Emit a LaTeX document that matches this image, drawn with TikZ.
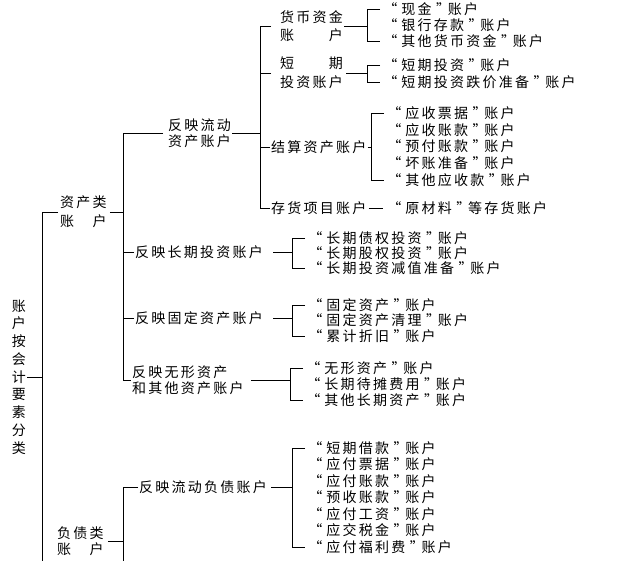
\documentclass[tikz,border=0pt]{standalone}
\usepackage{fontspec}
\setmainfont{Noto Sans CJK SC}[LetterSpace=16]
\usepackage{calc}
\usetikzlibrary{positioning}
\newcommand\qacc[1]{\makebox[1.16em][r]{“\hspace{4pt}}#1\makebox[1.16em][l]{\hspace{4.5pt}”}}

\begin{document}
\begin{tikzpicture}[x=1pt,y=-1pt,font=\fontsize{14}{16.5}\selectfont]
\tikzstyle{head}=[anchor=west,align=left,inner sep=1pt]
\tikzstyle{item}=[anchor=west,inner xsep=5pt,inner ysep=0pt]
\tikzstyle{link}=[-,line width=0.9pt]
\useasboundingbox (0,0) rectangle (631,561);

% spines and brackets
\coordinate (s1) at (42,0);
\coordinate (s1end) at (42,561);
\coordinate (s2) at (123,0);
\coordinate (s2end) at (123,561);
\coordinate (s3) at (260,0);
\coordinate (bcash) at (367,0);
\coordinate (bshort) at (367,0);
\coordinate (bsettle) at (371,0);
\coordinate (blt) at (292,0);
\coordinate (bfix) at (292,0);
\coordinate (bint) at (290,0);
\coordinate (bliab) at (292,0);

\node[align=center,inner sep=1pt,font=\fontsize{14}{17.75}\selectfont] (root) at (19,377) {账\\户\\按\\会\\计\\要\\素\\分\\类};

\node[head,font=\fontsize{14}{19}\selectfont] (assets) at (59,212) {资产类\\\makebox[\widthof{资产类}]{账\hfill 户}};
\node[head] (liab) at (56,541) {负债类\\\makebox[\widthof{负债类}]{账\hfill 户}};

\node[head] (curAsset) at (167,133) {反映流动\\资产账户};
\node[head] (ltInv) at (134,252) {反映长期投资账户};
\node[head] (fixed) at (134,318) {反映固定资产账户};
\node[head,font=\fontsize{14}{16}\selectfont] (intang) at (131,380) {反映无形资产\\和其他资产账户};
\node[head] (curLiab) at (138,487) {反映流动负债账户};

\node[head,font=\fontsize{14}{18}\selectfont] (cash) at (279,26) {货币资金\\\makebox[\widthof{货币资金}]{账\hfill 户}};
\node[head,font=\fontsize{14}{19}\selectfont] (short) at (279,73) {\makebox[\widthof{投资账户}]{短\hfill 期}\\投资账户};
\node[head] (settle) at (270,147) {结算资产账户};
\node[head] (stock) at (270,208) {存货项目账户};
\node[item,inner xsep=6pt] (raw) at (383,208) {\qacc{原材料}等存货账户};

\node[item] (cash1) at (380,9) {\qacc{现金}账户};
\node[item] (cash2) at (380,25) {\qacc{银行存款}账户};
\node[item] (cash3) at (380,41) {\qacc{其他货币资金}账户};

\node[item] (short1) at (380,65) {\qacc{短期投资}账户};
\node[item] (short2) at (380,82) {\qacc{短期投资跌价准备}账户};

\node[item] (settle1) at (384,113) {\qacc{应收票据}账户};
\node[item] (settle2) at (384,130) {\qacc{应收账款}账户};
\node[item] (settle3) at (384,146.5) {\qacc{预付账款}账户};
\node[item] (settle4) at (384,163) {\qacc{坏账准备}账户};
\node[item] (settle5) at (384,180) {\qacc{其他应收款}账户};

\node[item] (lt1) at (305,238) {\qacc{长期债权投资}账户};
\node[item] (lt2) at (305,253) {\qacc{长期股权投资}账户};
\node[item] (lt3) at (305,268) {\qacc{长期投资减值准备}账户};

\node[item] (fix1) at (305,305) {\qacc{固定资产}账户};
\node[item] (fix2) at (305,320) {\qacc{固定资产清理}账户};
\node[item] (fix3) at (305,336) {\qacc{累计折旧}账户};

\node[item] (int1) at (303,368) {\qacc{无形资产}账户};
\node[item] (int2) at (303,384) {\qacc{长期待摊费用}账户};
\node[item] (int3) at (303,400) {\qacc{其他长期资产}账户};

\node[item] (liab1) at (305,448) {\qacc{短期借款}账户};
\node[item] (liab2) at (305,464.5) {\qacc{应付票据}账户};
\node[item] (liab3) at (305,481) {\qacc{应付账款}账户};
\node[item] (liab4) at (305,497.5) {\qacc{预收账款}账户};
\node[item] (liab5) at (305,514) {\qacc{应付工资}账户};
\node[item] (liab6) at (305,530.5) {\qacc{应交税金}账户};
\node[item] (liab7) at (305,547) {\qacc{应付福利费}账户};

% first levels
\draw[link] (root.east) -- (root.east -| s1);
\draw[link,shorten <=1pt] (assets.west) -- (assets.west -| s1) -- (s1end);
\draw[link,shorten <=2pt] (assets.east) -- (assets.east -| s2);
\draw[link,shorten <=3pt] (liab.east) -- (liab.east -| s2);

\draw[link,shorten <=4pt] (curAsset.west) -- (curAsset.west -| s2) |- (intang.west);
\draw[link] (ltInv.west) -- (ltInv.west -| s2);
\draw[link] (fixed.west) -- (fixed.west -| s2);
\draw[link] (curLiab.west) -- (curLiab.west -| s2) -- (s2end);

\draw[link] (curAsset.east) -- (curAsset.east -| s3);
\draw[link,shorten <=8pt] (cash.west) -- (cash.west -| s3) |- (stock.west);
\draw[link,shorten <=8pt] (short.west) -- (short.west -| s3);
\draw[link] (settle.west) -- (settle.west -| s3);
\draw[link,shorten <=1pt] (stock.east) -- (raw.west);

% brackets
\draw[link] (cash.east) -- (cash.east -| bcash);
\draw[link] (cash1.west) -- (cash1.west -| bcash) |- (cash3.west);
\draw[link,shorten <=2pt] (short.east) -- (short.east -| bshort);
\draw[link] (short1.west) -- (short1.west -| bshort) |- (short2.west);
\draw[link] (settle.east) -- (settle.east -| bsettle);
\draw[link] (settle1.west) -- (settle1.west -| bsettle) |- (settle5.west);
\draw[link,shorten <=9pt] (ltInv.east) -- (ltInv.east -| blt);
\draw[link] (lt1.west) -- (lt1.west -| blt) |- (lt3.west);
\draw[link,shorten <=9pt] (fixed.east) -- (fixed.east -| bfix);
\draw[link] (fix1.west) -- (fix1.west -| bfix) |- (fix3.west);
\draw[link,shorten <=6pt] (intang.east) -- (intang.east -| bint);
\draw[link] (int1.west) -- (int1.west -| bint) |- (int3.west);
\draw[link,shorten <=3pt] (curLiab.east) -- (curLiab.east -| bliab);
\draw[link] (liab1.west) -- (liab1.west -| bliab) |- (liab7.west);
\end{tikzpicture}
\end{document}
